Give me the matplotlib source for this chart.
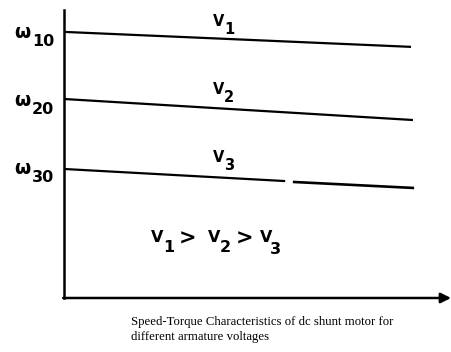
import matplotlib
matplotlib.use("Agg")
import matplotlib.pyplot as plt

# ---- data (torque in arbitrary units, speed in % of axis height) ----
torque_v1 = [0.0, 8.99]
speed_v1 = [92.4, 87.2]
torque_v2 = [0.0, 9.04]
speed_v2 = [69.1, 61.8]
torque_v3_a = [0.0, 5.73]
speed_v3_a = [44.8, 40.6]
torque_v3_b = [5.93, 9.07]
speed_v3_b = [40.3, 38.2]
omega_labels = ["10", "20", "30"]
volt_labels = ["1", "2", "3"]
caption = ["Speed-Torque Characteristics of dc shunt motor for",
           "different armature voltages"]

W, H = 451, 352
fig = plt.figure(figsize=(W / 100, H / 100), dpi=100)
fig.patch.set_facecolor("white")

def fx(x):
    return x / W

def fy(y):
    return 1 - y / H

ax = fig.add_axes([fx(64), fy(298), (443 - 64) / W, (298 - 10) / H])
ax.set_xlim(0, 10 * (443 - 64) / 386)
ax.set_ylim(0, 100)
for s in ["top", "right", "bottom"]:
    ax.spines[s].set_visible(False)
ax.spines["left"].set_linewidth(1.8)
ax.set_xticks([])
ax.set_yticks([])
ax.patch.set_alpha(0)

lw = 1.6
ax.plot(torque_v1, speed_v1, color="black", lw=lw, solid_capstyle="butt")
ax.plot(torque_v2, speed_v2, color="black", lw=lw, solid_capstyle="butt")
ax.plot(torque_v3_a, speed_v3_a, color="black", lw=lw, solid_capstyle="butt")
ax.plot(torque_v3_b, speed_v3_b, color="black", lw=lw + 0.3, solid_capstyle="butt")

# x axis with arrow
ax.annotate("", xy=(fx(451), fy(298)), xytext=(fx(63.2), fy(298)),
            xycoords="figure fraction", textcoords="figure fraction",
            arrowprops=dict(arrowstyle="-|>,head_length=0.6,head_width=0.3",
                            color="black", lw=1.8, shrinkA=0, shrinkB=0))

font = "DejaVu Sans"
fs = 11
wt = "bold"
# omega labels
omega_y = [33, 101, 168]
for lab, y in zip(omega_labels, omega_y):
    fig.text(fx(14), fy(y), "\u03c9", fontsize=fs + 2.5, family=font,
             weight=wt, ha="left", va="center")
    fig.text(fx(32), fy(y + 9), lab, fontsize=fs + 0.5, family=font,
             weight=wt, ha="left", va="center")

# V labels on lines
v_y = [22, 90, 158]
for lab, y in zip(volt_labels, v_y):
    fig.text(fx(213), fy(y), "V", fontsize=fs - 0.5, family=font,
             weight=wt, ha="left", va="center")
    fig.text(fx(224), fy(y + 7), lab, fontsize=fs - 0.5, family=font,
             weight=wt, ha="left", va="center")

# inequality
row = 237
items = [(151, "V", 0, fs + 0.5), (163, volt_labels[0], 11, fs + 0.5),
         (179, ">", 2, fs + 4),
         (208, "V", 0, fs + 0.5), (220, volt_labels[1], 11, fs + 0.5),
         (236, ">", 2, fs + 4),
         (260, "V", 0, fs + 0.5), (270, volt_labels[2], 12, fs + 0.5)]
for x, t, dy, size in items:
    fig.text(fx(x), fy(row + dy), t, fontsize=size, family=font,
             weight=wt, ha="left", va="center")

# caption
fig.text(fx(131), fy(322), caption[0], fontsize=9.2, family="Liberation Serif",
         ha="left", va="center")
fig.text(fx(131), fy(337), caption[1], fontsize=9.2, family="Liberation Serif",
         ha="left", va="center")

fig.savefig("out.png", dpi=100, facecolor="white")
